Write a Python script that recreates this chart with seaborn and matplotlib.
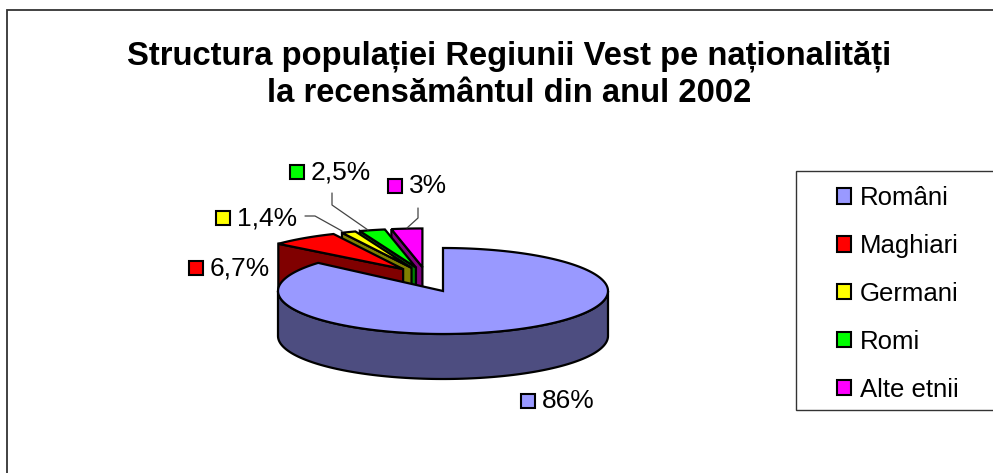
import numpy as np
import matplotlib
matplotlib.use("Agg")
import matplotlib.pyplot as plt
from matplotlib.patches import Rectangle, Polygon
import seaborn as sns

categories = ["Români", "Maghiari", "Germani", "Romi", "Alte etnii"]
values = [86, 6.7, 1.4, 2.5, 3]
value_labels = ["86%", "6,7%", "1,4%", "2,5%", "3%"]
hex_colors = ["#9999FF", "#FF0000", "#FFFF00", "#00FF00", "#FF00FF"]
title_lines = ["Structura populației Regiunii Vest pe naționalități",
               "la recensământul din anul 2002"]

sns.set_theme(style="white")
plt.rcParams["font.family"] = ["Liberation Sans", "DejaVu Sans"]
palette = sns.color_palette(hex_colors)
shades = [tuple(c * 0.5 for c in col) for col in palette]

fig = plt.figure(figsize=(9.93, 4.73), dpi=100, facecolor="white")
ax = fig.add_axes([0, 0, 1, 1])
ax.set_xlim(0, 993)
ax.set_ylim(473, 0)
ax.axis("off")

# chart frame
ax.add_patch(Rectangle((7, 10), 1100, 600, fc="white", ec="#333333", lw=1.3))

for i, line in enumerate(title_lines):
    ax.text(509, 56 + i * 38, line, ha="center", va="center",
            fontsize=23.6, fontweight="bold", color="black")

# pie geometry (layout)
CX, CY, RX, RY, DEPTH = 443, 291, 165, 43, 45
ANCHOR = (426, 277)
EXPLODE = 0.23
R_EXPL_X, R_EXPL_Y = 1.0, 0.90
LW = 1.6


def rim(cx, cy, a, rx=1.0, ry=None):
    ry = rx if ry is None else ry
    return cx + rx * RX * np.sin(a), cy - ry * RY * np.cos(a)


fractions = np.array(values) / np.sum(values)
edges = np.concatenate([[0], np.cumsum(fractions)]) * 2 * np.pi

# exploded slices: back to front
for i in [4, 3, 2, 1]:
    a0, a1 = edges[i], edges[i + 1]
    mid = (a0 + a1) / 2
    ax_, ay_ = rim(ANCHOR[0], ANCHOR[1], mid, EXPLODE)
    sx, sy = rim(ax_, ay_, a0, R_EXPL_X, R_EXPL_Y)
    ax.add_patch(Polygon([(ax_, ay_), (sx, sy), (sx, sy + DEPTH), (ax_, ay_ + DEPTH)],
                         closed=True, fc=shades[i], ec="black", lw=LW))
    t = np.linspace(a0, a1, 30)
    xs, ys = rim(ax_, ay_, t, R_EXPL_X, R_EXPL_Y)
    pts = np.column_stack([np.r_[ax_, xs], np.r_[ay_, ys]])
    ax.add_patch(Polygon(pts, closed=True, fc=palette[i], ec="black", lw=LW))

# main slice: side wall and top
t = np.linspace(np.pi / 2, 3 * np.pi / 2, 120)
xs, ys = rim(CX, CY, t)
wall = np.column_stack([np.r_[xs, xs[::-1]], np.r_[ys, ys[::-1] + DEPTH]])
ax.add_patch(Polygon(wall, closed=True, fc=shades[0], ec="black", lw=LW))
t = np.linspace(edges[0], edges[1], 300)
xs, ys = rim(CX, CY, t)
top = np.column_stack([np.r_[CX, xs], np.r_[CY, ys]])
ax.add_patch(Polygon(top, closed=True, fc=palette[0], ec="black", lw=LW))

# data labels with key swatches
label_pos = [(521, 401), (189, 268), (216, 218), (290, 172), (388, 186)]
for i, (x, y) in enumerate(label_pos):
    ax.add_patch(Rectangle((x, y - 7), 14, 14, fc=palette[i], ec="black", lw=1.5))
    ax.text(x + 21, y, value_labels[i], ha="left", va="center", fontsize=19, color="black")

# leader lines
leaders = [[(305, 216), (315, 216), (342, 231)],
           [(332, 193), (332, 205), (368, 230)],
           [(418, 208), (418, 218), (407, 228)]]
for seg in leaders:
    ax.plot(*zip(*seg), color="#444444", lw=0.9)

# legend
ax.add_patch(Rectangle((796, 171), 300, 239, fc="white", ec="#333333", lw=1.0))
handles = [Rectangle((0, 0), 1, 1, fc=palette[i], ec="black", lw=1.5) for i in range(5)]
leg = ax.legend(handles, categories, loc="upper left", bbox_to_anchor=(837 / 993, 1 - 186 / 473),
                bbox_transform=fig.transFigure, frameon=False, fontsize=18.5, labelcolor="black",
                handlelength=0.545, handleheight=0.545, handletextpad=0.35,
                labelspacing=0.93, borderpad=0, borderaxespad=0)

fig.savefig("out.png", dpi=100)
